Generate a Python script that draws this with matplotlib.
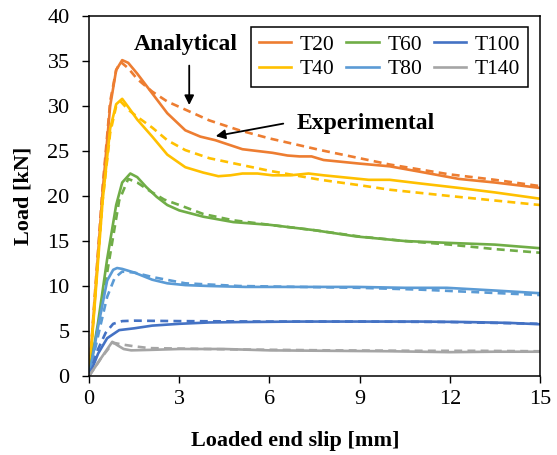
import matplotlib.pyplot as plt

plt.rcParams['font.family'] = ['Liberation Serif', 'DejaVu Serif']

# experimental (solid) and analytical (dashed) load-slip curves
t20_exp_x = [0, 0.2, 0.45, 0.7, 0.9, 1.1, 1.3, 1.6, 2.1, 2.6, 3.2, 3.7, 4.2, 5.1, 6.1, 6.6, 7.0, 7.4, 7.8, 8.4, 9.0, 10.0, 11.0, 12.3, 13.5, 15]
t20_exp_y = [0, 9, 20.5, 30, 34, 35.1, 34.8, 33.6, 31.4, 29.2, 27.3, 26.6, 26.2, 25.2, 24.8, 24.5, 24.4, 24.4, 24.0, 23.8, 23.6, 23.3, 22.7, 21.9, 21.5, 20.9]
t20_ana_x = [0, 0.2, 0.45, 0.7, 0.9, 1.05, 1.3, 1.6, 2.1, 2.6, 3.2, 4, 5, 6, 7.7, 9, 10, 12, 13.5, 15]
t20_ana_y = [0, 9.5, 21, 30.5, 34, 34.9, 34.2, 33.0, 31.6, 30.5, 29.6, 28.4, 27.3, 26.4, 25.1, 24.2, 23.5, 22.4, 21.8, 21.1]

t40_exp_x = [0, 0.2, 0.45, 0.7, 0.9, 1.1, 1.3, 1.6, 2.1, 2.6, 3.2, 3.8, 4.3, 4.7, 5.1, 5.6, 6.1, 6.7, 7.3, 7.8, 8.4, 9.3, 10.0, 11.0, 12.3, 13.5, 15]
t40_exp_y = [0, 8.5, 19.5, 27.5, 30.2, 30.8, 29.9, 28.5, 26.6, 24.6, 23.2, 22.6, 22.2, 22.3, 22.5, 22.5, 22.3, 22.3, 22.5, 22.3, 22.1, 21.8, 21.8, 21.4, 20.9, 20.4, 19.7]
t40_ana_x = [0, 0.2, 0.45, 0.7, 0.9, 1.05, 1.3, 1.6, 2.1, 2.6, 3.2, 4, 5, 6, 7.7, 9, 10, 12, 13.5, 15]
t40_ana_y = [0, 9, 19.5, 27, 30, 30.5, 29.6, 28.8, 27.6, 26.2, 25.1, 24.2, 23.5, 22.8, 21.8, 21.2, 20.7, 20.0, 19.5, 19.0]

t60_exp_x = [0, 0.3, 0.6, 0.9, 1.1, 1.37, 1.6, 1.9, 2.25, 2.6, 3.0, 3.8, 4.8, 6.0, 7.5, 8.9, 10.5, 11.9, 13.5, 15]
t60_exp_y = [0, 6, 13, 19, 21.5, 22.5, 22.1, 21.0, 19.9, 19.0, 18.4, 17.7, 17.1, 16.8, 16.2, 15.5, 15.0, 14.8, 14.6, 14.2]
t60_ana_x = [0, 0.35, 0.7, 1.0, 1.3, 1.6, 2.0, 2.5, 3.0, 3.8, 4.8, 6.0, 7.5, 9, 10.5, 12, 13.5, 15]
t60_ana_y = [0, 6.5, 13.5, 19.5, 21.9, 21.5, 20.6, 19.6, 19.0, 18.0, 17.3, 16.8, 16.2, 15.5, 15.0, 14.6, 14.1, 13.7]

t80_exp_x = [0, 0.3, 0.6, 0.8, 0.93, 1.1, 1.5, 2.1, 2.6, 3.2, 4.0, 5.2, 7, 8.9, 10.5, 11.9, 13.5, 15]
t80_exp_y = [0, 5.5, 10.6, 11.8, 12.0, 11.9, 11.5, 10.7, 10.3, 10.1, 10.0, 9.9, 9.9, 9.9, 9.8, 9.8, 9.5, 9.2]
t80_ana_x = [0, 0.3, 0.6, 0.85, 1.1, 1.5, 2.1, 3.2, 5, 7, 9, 11, 13, 15]
t80_ana_y = [0, 4.5, 8.8, 10.9, 11.6, 11.5, 11.0, 10.3, 10.0, 9.9, 9.8, 9.6, 9.3, 9.0]

t100_exp_x = [0, 0.3, 0.6, 1.0, 1.5, 2.1, 3.0, 4.0, 5.2, 7, 9, 11, 12.5, 14, 15]
t100_exp_y = [0, 2.5, 4.2, 5.1, 5.3, 5.6, 5.8, 5.95, 6.0, 6.05, 6.05, 6.05, 6.0, 5.9, 5.75]
t100_ana_x = [0, 0.3, 0.55, 0.8, 1.1, 1.5, 3, 6, 9, 12, 13.5, 15]
t100_ana_y = [0, 3.0, 4.8, 5.8, 6.1, 6.15, 6.1, 6.05, 6.05, 6.0, 5.9, 5.8]

t140_exp_x = [0, 0.4, 0.77, 0.95, 1.15, 1.4, 2, 3, 4.5, 6, 8, 10, 12, 13.5, 15]
t140_exp_y = [0, 2.0, 3.8, 3.4, 3.0, 2.85, 2.9, 3.0, 3.0, 2.85, 2.8, 2.75, 2.65, 2.7, 2.7]
t140_ana_x = [0, 0.4, 0.8, 1.1, 1.5, 2, 3, 5, 8, 11, 13, 15]
t140_ana_y = [0, 2.0, 3.7, 3.5, 3.3, 3.1, 3.05, 2.95, 2.85, 2.8, 2.8, 2.75]

labels = ['T20', 'T40', 'T60', 'T80', 'T100', 'T140']
colors = ['#ED7D31', '#FFC000', '#70AD47', '#5B9BD5', '#4472C4', '#A5A5A5']
exp_curves = [(t20_exp_x, t20_exp_y), (t40_exp_x, t40_exp_y), (t60_exp_x, t60_exp_y),
              (t80_exp_x, t80_exp_y), (t100_exp_x, t100_exp_y), (t140_exp_x, t140_exp_y)]
ana_curves = [(t20_ana_x, t20_ana_y), (t40_ana_x, t40_ana_y), (t60_ana_x, t60_ana_y),
              (t80_ana_x, t80_ana_y), (t100_ana_x, t100_ana_y), (t140_ana_x, t140_ana_y)]

fig = plt.figure(figsize=(5.57, 4.55), dpi=100)
ax = fig.add_axes([0.160, 0.1736, 0.8095, 0.7912])

for (xe, ye), (xa, ya), lab, c in zip(exp_curves, ana_curves, labels, colors):
    ax.plot(xa, ya, color=c, lw=1.9, linestyle=(0, (3, 2)))
    ax.plot(xe, ye, color=c, lw=1.9, label=lab)

ax.set_xlim(0, 15)
ax.set_ylim(0, 40)
ax.set_xticks([0, 3, 6, 9, 12, 15])
ax.set_yticks(range(0, 41, 5))
ax.tick_params(direction='out', length=5, width=1, labelsize=16, colors='black')
ax.tick_params(axis='y', pad=9)
ax.tick_params(axis='x', pad=5)
for s in ax.spines.values():
    s.set_linewidth(1.1)

ax.set_xlabel('Loaded end slip [mm]', fontsize=16, fontweight='bold')
ax.xaxis.set_label_coords(0.457, -0.152)
ax.set_ylabel('Load [kN]', fontsize=16, fontweight='bold', labelpad=10)

leg = ax.legend(ncol=3, loc='upper right', bbox_to_anchor=(0.973, 0.969), fontsize=15.5,
                frameon=True, fancybox=False, edgecolor='black', framealpha=1,
                handlelength=1.5, handletextpad=0.4, columnspacing=0.55,
                labelspacing=0.2, borderpad=0.35, borderaxespad=0)
leg.get_frame().set_linewidth(1.1)

ax.annotate('', xy=(3.33, 29.8), xytext=(3.33, 34.8),
            arrowprops=dict(arrowstyle='-|>', color='black', lw=1.3, mutation_scale=14))
ax.text(3.2, 36.8, 'Analytical', fontsize=17, fontweight='bold', ha='center', va='center')

ax.annotate('', xy=(4.12, 26.6), xytext=(6.55, 28.1),
            arrowprops=dict(arrowstyle='-|>', color='black', lw=1.3, mutation_scale=14))
ax.text(6.9, 28.1, 'Experimental', fontsize=17, fontweight='bold', ha='left', va='center')

fig.savefig('out.png', dpi=100)
